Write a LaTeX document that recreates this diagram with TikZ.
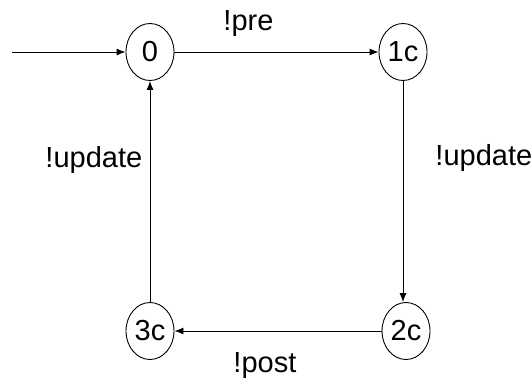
\documentclass[tikz,border=0pt]{standalone}
\usepackage{fontspec}
\setmainfont{Liberation Sans}
\usetikzlibrary{%
  arrows.meta,%
  shapes.geometric,% wg. ellipse
  positioning%
}

\begin{document}
\begin{tikzpicture}
[x=1pt, y=-1pt, font=\fontsize{29}{34}\selectfont, line width=0.9pt,
state/.style={ellipse, draw, inner sep=0pt, minimum width=48pt, minimum height=57pt},
trans/.style={-{Latex[length=9pt,width=7pt]}},
lbl/.style={anchor=base west, inner sep=0pt}
]
\useasboundingbox (0,0) rectangle (532,381);

\node[state] (s0) at (150,52) {0};
\node[state] (s1c) at (403,52) {1c};
\node[state] (s2c) at (406,331) {2c};
\node[state] (s3c) at (150,331) {3c};

\coordinate (start) at (12,52);

\draw[trans] (start) -- (s0);
\draw[trans] (s0) -- (s1c);
\draw[trans] (s1c.south) -- (s1c.south |- s2c.north);
\draw[trans] (s2c) -- (s3c);
\draw[trans] (s3c.north) -- (s0.south);

\node[lbl] (pre) at (223,30) {!pre};
\node[lbl] (upd1) at (435,165) {!update};
\node[lbl] (post) at (233,372) {!post};
\node[lbl] (upd2) at (45,167) {!update};
\end{tikzpicture}
\end{document}
